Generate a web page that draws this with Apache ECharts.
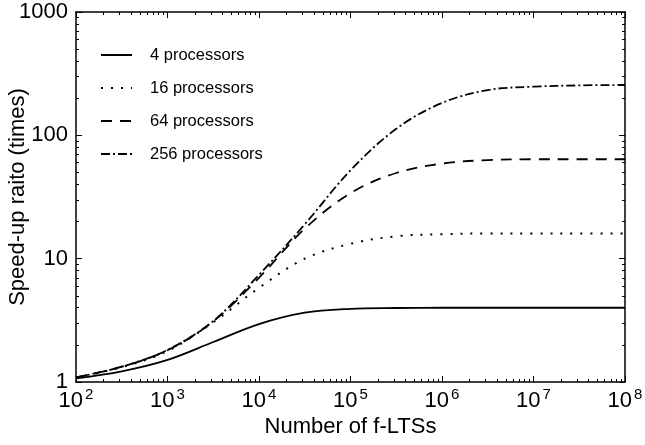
<!DOCTYPE html>
<html>
<head>
<meta charset="utf-8">
<script src="https://cdn.jsdelivr.net/npm/echarts@6/dist/echarts.min.js"></script>
<style>
  html, body { margin: 0; padding: 0; background: #fff; }
  #main { width: 645px; height: 445px; }
</style>
</head>
<body>
<div id="main"></div>
<script>
// values, at half-decade steps of n
var nValues = [100, 316, 1000, 3162, 10000, 31623, 100000, 316228, 1000000, 3162278, 10000000, 31622777, 100000000];
var s4   = [1.07, 1.22, 1.51, 2.11, 2.95, 3.65, 3.92, 3.98, 4, 4, 4, 4, 4];
var s16  = [1.09, 1.32, 1.78, 3.05, 5.8, 10, 13.2, 15.2, 15.8, 16, 16, 16, 16];
var s64  = [1.09, 1.33, 1.81, 3.1, 7.0, 17.5, 34, 49.5, 59, 63, 64, 64, 64];
var s256 = [1.09, 1.33, 1.82, 3.12, 7.4, 19, 52, 113, 183, 233, 248, 254, 256];

var seriesNames = ['4 processors', '16 processors', '64 processors', '256 processors'];
var xMajor = [100, 1000, 10000, 100000, 1000000, 10000000, 100000000];
var yMajor = [1, 10, 100, 1000];

var FONT = 'Liberation Sans';

// minor ticks at 2..9 of each decade
function minors(major) {
	var out = [];
	for (var i = 0; i < major.length - 1; i++) {
		for (var k = 2; k <= 9; k++) {
			out.push(major[i] * k);
		}
	}
	return out;
}

function pairs(ys) {
	return nValues.map(function(n, i) {
		return [n, ys[i]];
	});
}

var chart = echarts.init(document.getElementById('main'), null, { renderer: 'canvas' });

var lineColor = '#000';

function xAx(pos, major, withLabel) {
	var vals = major ? xMajor : minors(xMajor);
	return {
		type : 'log',
		logBase : 10,
		position : pos,
		min : 100,
		max : 100000000,
		splitLine : { show : false },
		axisLine : { show : major, onZero : false, lineStyle : { color : lineColor, width : 1.5 } },
		axisTick : { show : true, inside : true, length : major ? 6 : 3, customValues : vals,
			lineStyle : { color : lineColor, width : 1 } },
		axisLabel : withLabel ? {
			show : true,
			customValues : xMajor,
			margin : 5,
			formatter : function(v) {
				return '{b|10}{s|' + Math.round(Math.log10(v)) + '}';
			},
			rich : {
				b : { fontSize : 22, fontFamily : FONT, color : '#000' },
				s : { fontSize : 15, fontFamily : FONT, color : '#000', padding : [0, 0, 13, 2] }
			}
		} : { show : false },
		name : withLabel ? 'Number of f-LTSs' : '',
		nameLocation : 'middle',
		nameGap : 34,
		nameMoveOverlap : false,
		nameTextStyle : { fontSize : 22, fontFamily : FONT, color : '#000' }
	};
}

function yAx(pos, major, withLabel) {
	var vals = major ? yMajor : minors(yMajor);
	return {
		type : 'log',
		logBase : 10,
		position : pos,
		min : 1,
		max : 1000,
		splitLine : { show : false },
		axisLine : { show : major, onZero : false, lineStyle : { color : lineColor, width : 1.5 } },
		axisTick : { show : true, inside : true, length : major ? 6 : 3, customValues : vals,
			lineStyle : { color : lineColor, width : 1 } },
		axisLabel : withLabel ? {
			show : true,
			customValues : yMajor,
			margin : 8,
			fontSize : 22,
			fontFamily : FONT,
			color : '#000',
			formatter : function(v) { return String(Math.round(v)); }
		} : { show : false },
		name : withLabel ? 'Speed-up raito (times)' : '',
		nameLocation : 'middle',
		nameGap : 47,
		nameMoveOverlap : false,
		nameTextStyle : { fontSize : 22, fontFamily : FONT, color : '#000' }
	};
}

function lineSeries(name, ys, type, w) {
	return {
		name : name,
		type : 'line',
		xAxisIndex : 0,
		yAxisIndex : 0,
		data : pairs(ys),
		symbol : 'none',
		smooth : 0.35,
		lineStyle : { color : lineColor, width : w, type : type, cap : 'butt' },
		itemStyle : { color : lineColor },
		animation : false
	};
}

var option = {
	backgroundColor : '#fff',
	animation : false,
	grid : {
		left : 76,
		right : 20,
		top : 12,
		bottom : 63,
		containLabel : false,
		outerBoundsMode : 'none'
	},
	legend : {
		orient : 'vertical',
		left : 95,
		top : 41,
		itemWidth : 31,
		itemHeight : 18,
		itemGap : 15,
		data : seriesNames,
		itemStyle : { opacity : 0 },
		textStyle : { fontSize : 16.5, lineHeight : 18, fontFamily : FONT, color : '#000', padding : [0, 0, 0, 13] }
	},
	xAxis : [
		xAx('bottom', true, true),
		xAx('bottom', false, false),
		xAx('top', true, false),
		xAx('top', false, false)
	],
	yAxis : [
		yAx('left', true, true),
		yAx('left', false, false),
		yAx('right', true, false),
		yAx('right', false, false)
	],
	series : [
		lineSeries(seriesNames[0], s4, 'solid', 1.8),
		lineSeries(seriesNames[1], s16, [2, 8], 2),
		lineSeries(seriesNames[2], s64, [11, 8], 1.8),
		lineSeries(seriesNames[3], s256, [9, 3, 2, 3], 1.8)
	]
};

chart.setOption(option);
</script>
</body>
</html>
